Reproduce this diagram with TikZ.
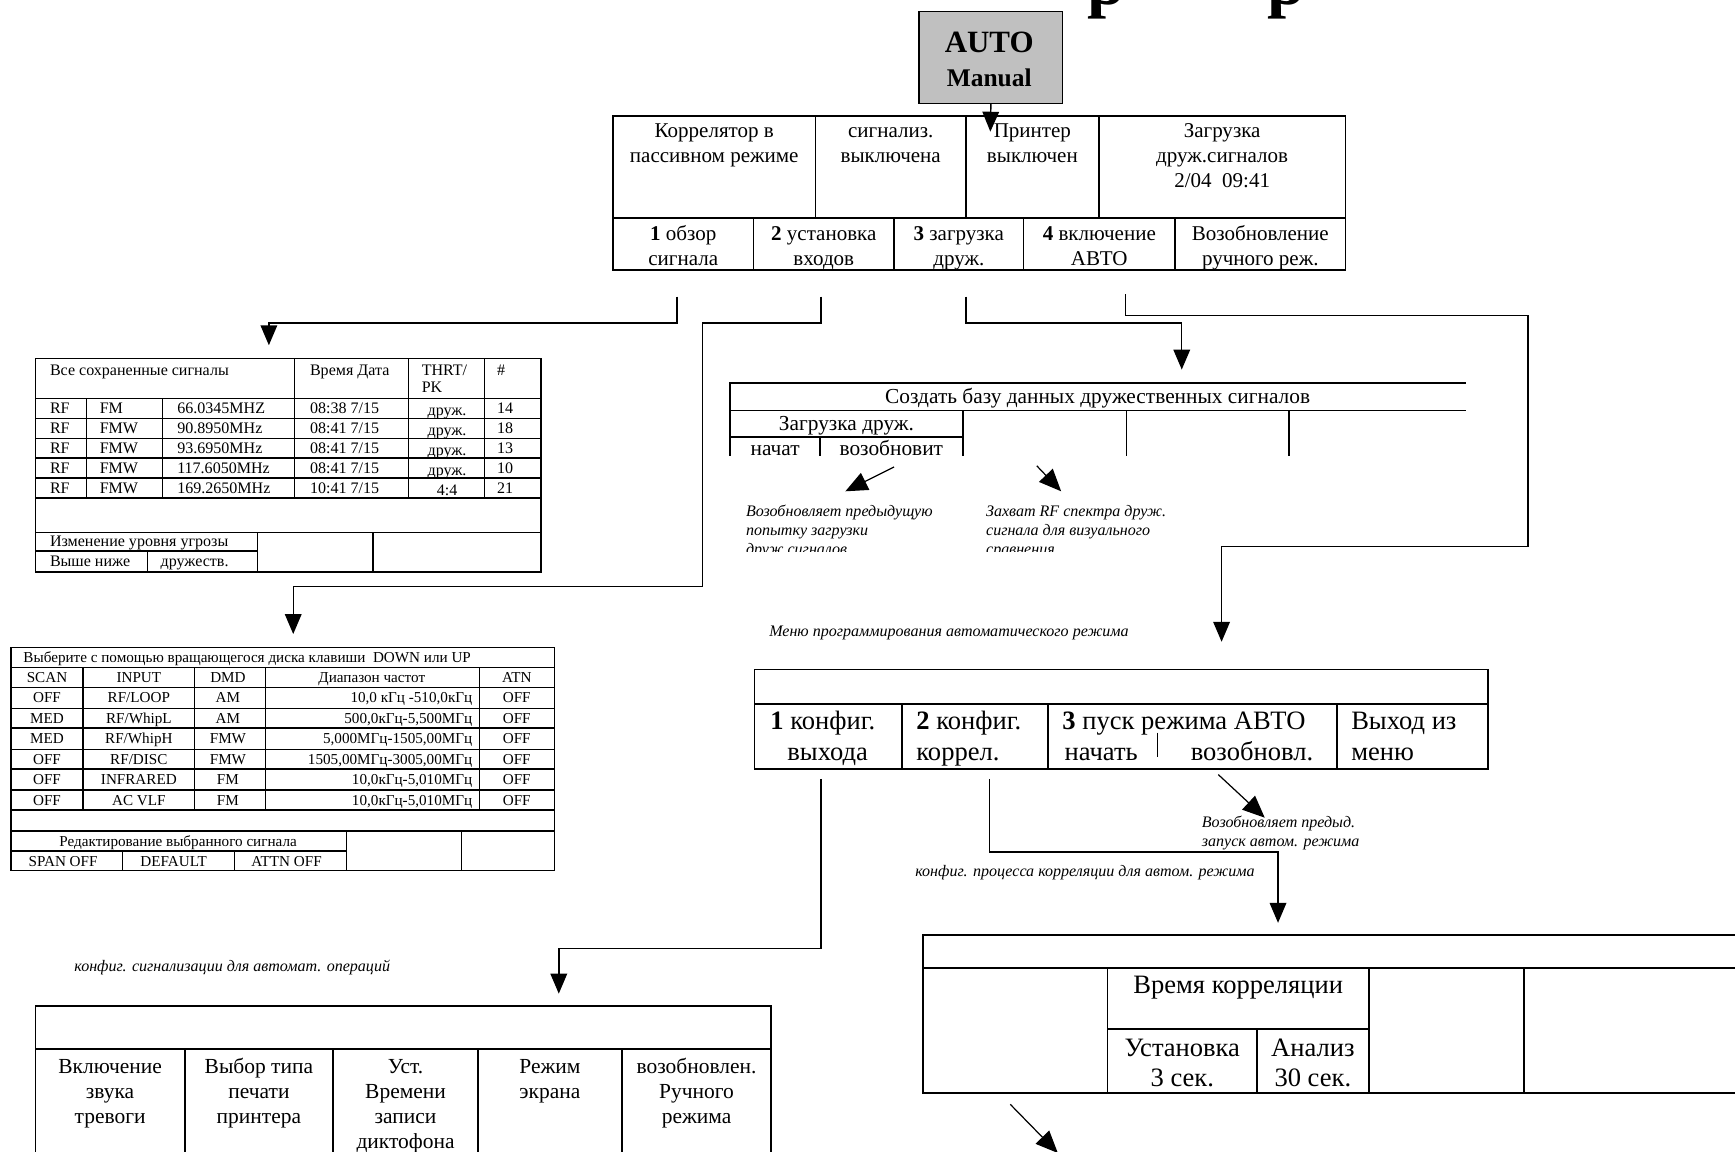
\documentclass[tikz,border=0pt]{standalone}
\usepackage{fontspec}
\setmainfont{Liberation Serif}
\usetikzlibrary{arrows.meta}
\definecolor{autogray}{HTML}{C0C0C0}
\newcommand\mlc[1]{\vtop{\halign{\hfil##\hfil\cr#1\crcr}}}
\newcommand\mll[1]{\vtop{\halign{##\hfil\cr#1\crcr}}}
\newcommand\fsTop{\fontsize{19}{22.5}\selectfont}
\newcommand\fsSav{\fontsize{14.5}{16}\selectfont}
\newcommand\fsInp{\fontsize{13.7}{18}\selectfont}
\newcommand\fsBig{\fontsize{24}{27}\selectfont}
\newcommand\fsCre{\fontsize{19.3}{24}\selectfont}
\newcommand\fsIt{\itshape\fontsize{14.5}{17}\selectfont}
\newcommand\fsBot{\fontsize{19.4}{22.5}\selectfont}
\newcommand\savrow[7]{%
  \node[tw,font=\fsSav] (#1a) at (45,#2) {RF};
  \node[tw,font=\fsSav] (#1b) at (90,#2) {#3};
  \node[tw,font=\fsSav] (#1c) at (160,#2) {#4};
  \node[tw,font=\fsSav] (#1d) at (280,#2) {#5};
  \node[t,font=\fsSav] (#1e) at (404,{#2+1.5}) {#6};
  \node[tw,font=\fsSav] (#1f) at (449,#2) {#7};}
\newcommand\inprow[6]{%
  \node[t,font=\fsInp] (#1a) at (42.5,#2) {#3};
  \node[t,font=\fsInp] (#1b) at (125.5,#2) {#4};
  \node[t,font=\fsInp] (#1c) at (206,#2) {#5};
  \node[te,font=\fsInp] (#1d) at (427,#2) {#6};
  \node[t,font=\fsInp] (#1e) at (467,#2) {OFF};}
\begin{document}
\begin{tikzpicture}[x=1pt,y=-1pt,
  tl/.style={line width=1.5pt},
  ts/.style={line width=1.1pt},
  arr/.style={line width=1.3pt,-{Triangle[length=18pt,width=15pt]}},
  darr/.style={line width=1.1pt,-{Triangle[length=20pt,width=17pt]}},
  t/.style={inner sep=0pt,anchor=base},
  tw/.style={inner sep=0pt,anchor=base west},
  te/.style={inner sep=0pt,anchor=base east}]
\fill[white] (0,0) rectangle (1568,1041);
\useasboundingbox (0,0) rectangle (1568,1041);

% cut-off title fragments (the title lies above the page edge)
\node[tw,font=\bfseries\fontsize{62}{66}\selectfont] (ttl1) at (983,4) {р};
\node[tw,font=\bfseries\fontsize{62}{66}\selectfont] (ttl2) at (1145,4) {р};

% AUTO / Manual
\node[draw,line width=1pt,fill=autogray,minimum width=130pt,minimum height=83pt,inner sep=0pt,anchor=north west] (auto) at (830,10) {};
\node[t,font=\bfseries\fontsize{28}{30}\selectfont] (autoA) at (894,47) {AUTO};
\node[t,font=\bfseries\fontsize{23}{25}\selectfont] (autoM) at (894,78) {Manual};
\coordinate (autoT) at (895,119);

% top table
\draw[tl] (554,105) rectangle (1216,244);
\draw[tl] (554,197) -- (1216,197);
\draw[tl] (737,105) -- (737,197) (873,105) -- (873,197) (993,105) -- (993,197);
\draw[tl] (681,197) -- (681,244) (808,197) -- (808,244) (925,197) -- (925,244) (1062,197) -- (1062,244);
\node[t,font=\fsTop] (m1) at (645.5,124) {\mlc{Коррелятор в\cr пассивном режиме}};
\node[t,font=\fsTop] (m2) at (805,124) {\mlc{сигнализ.\cr выключена}};
\node[t,font=\fsTop] (m3) at (933,124) {\mlc{Принтер\cr выключен}};
\node[t,font=\fsTop] (m4) at (1104.5,124) {\mlc{Загрузка\cr друж.сигналов\cr 2/04\ \ 09:41}};
\node[t,font=\fsTop] (k1) at (617.5,217) {\mlc{\textbf{1} обзор\cr сигнала}};
\node[t,font=\fsTop] (k2) at (744.5,217) {\mlc{\textbf{2} установка\cr входов}};
\node[t,font=\fsTop] (k3) at (866.5,217) {\mlc{\textbf{3} загрузка\cr друж.}};
\node[t,font=\fsTop] (k4) at (993.5,217) {\mlc{\textbf{4} включение\cr АВТО}};
\node[t,font=\fsTop] (k5) at (1139,217) {\mlc{Возобновление\cr ручного реж.}};
\draw[arr] (auto.south) -- (autoT);

% connectors from top table
\coordinate (c1s) at (612,268); \coordinate (c1e) at (243,312);
\draw[arr] (c1s) -- (612,292) -| (c1e);
\coordinate (c2s) at (742,268); \coordinate (c2e) at (265,573);
\draw[arr] (c2s) -- (742,292) -- (635,292) -- (635,530) -| (c2e);
\coordinate (c3s) at (873,268); \coordinate (c3e) at (1068,334);
\draw[arr] (c3s) -- (873,292) -| (c3e);
\coordinate (c4s) at (1017,266); \coordinate (c4e) at (1104,580);
\draw[arr] (c4s) -- (1017,285) -- (1381,285) -- (1381,494) -| (c4e);

% saved signals table
\draw[ts] (32,324) rectangle (489,517);
\foreach \yy in {360,378,396,414,432,450,481} \draw[ts] (32,\yy) -- (489,\yy);
\draw[ts] (32,498) -- (233,498);
\draw[ts] (78,360) -- (78,450) (147,360) -- (147,450);
\draw[ts] (266,324) -- (266,450) (369,324) -- (369,450) (438,324) -- (438,450);
\draw[ts] (233,481) -- (233,517) (337,481) -- (337,517) (133,498) -- (133,517);
\node[tw,font=\fsSav] (sh1) at (45,339) {Все сохраненные сигналы};
\node[tw,font=\fsSav] (sh2) at (280,339) {Время Дата};
\node[tw,font=\fsSav] (sh3) at (381,339) {\mll{THRT/\cr PK}};
\node[tw,font=\fsSav] (sh4) at (449,339) {\#};
\savrow{sa}{374}{FM}{66.0345MHZ}{08:38 7/15}{друж.}{14}
\savrow{sb}{392}{FMW}{90.8950MHz}{08:41 7/15}{друж.}{18}
\savrow{sc}{410}{FMW}{93.6950MHz}{08:41 7/15}{друж.}{13}
\savrow{sd}{428}{FMW}{117.6050MHz}{08:41 7/15}{друж.}{10}
\savrow{se}{446}{FMW}{169.2650MHz}{10:41 7/15}{4:4}{21}
\node[tw,font=\fsSav] (sf1) at (45,494) {Изменение уровня угрозы};
\node[tw,font=\fsSav] (sf2) at (45,512) {Выше ниже};
\node[tw,font=\fsSav] (sf3) at (145,512) {дружеств.};

% input selection table
\draw[ts] (10,585) rectangle (501,787);
\foreach \yy in {603,621,640,658,677,695,714,732,751} \draw[ts] (10,\yy) -- (501,\yy);
\draw[ts] (10,769) -- (313,769);
\draw[ts] (75,603) -- (75,732) (176,603) -- (176,732) (240,603) -- (240,732) (433,603) -- (433,732);
\draw[ts] (313,751) -- (313,787) (417,751) -- (417,787) (111,769) -- (111,787) (212,769) -- (212,787);
\node[tw,font=\fsInp] (it) at (21,599) {Выберите с помощью вращающегося диска клавиши\ \ DOWN или UP};
\node[t,font=\fsInp] (ih1) at (42.5,617) {SCAN};
\node[t,font=\fsInp] (ih2) at (125.5,617) {INPUT};
\node[t,font=\fsInp] (ih3) at (206,617) {DMD};
\node[t,font=\fsInp] (ih4) at (336,617) {Диапазон частот};
\node[t,font=\fsInp] (ih5) at (467,617) {ATN};
\inprow{ia}{635}{OFF}{RF/LOOP}{AM}{10,0 кГц -510,0кГц}
\inprow{ib}{654}{MED}{RF/WhipL}{AM}{500,0кГц-5,500МГц}
\inprow{ic}{672}{MED}{RF/WhipH}{FMW}{5,000МГц-1505,00МГц}
\inprow{id}{691}{OFF}{RF/DISC}{FMW}{1505,00МГц-3005,00МГц}
\inprow{ie}{709}{OFF}{INFRARED}{FM}{10,0кГц-5,010МГц}
\inprow{if}{728}{OFF}{AC VLF}{FM}{10,0кГц-5,010МГц}
\node[t,font=\fsInp] (ib1) at (161,765) {Редактирование выбранного сигнала};
\node[t,font=\fsInp] (ib2) at (57,783) {SPAN OFF};
\node[t,font=\fsInp] (ib3) at (157,783) {DEFAULT};
\node[t,font=\fsInp] (ib4) at (259,783) {ATTN OFF};

% friendly database table
\draw[tl] (660,412) -- (660,346) -- (1325,346);
\draw[tl] (660,371) -- (1325,371);
\draw[tl] (660,395) -- (870,395);
\draw[tl] (870,371) -- (870,412) (1018,371) -- (1018,412) (1165,371) -- (1165,412);
\draw[tl] (741,395) -- (741,412);
\node[t,font=\fsCre] (cr1) at (992,365) {Создать базу данных дружественных сигналов};
\node[t,font=\fsCre] (cr2) at (765,389) {Загрузка друж.};
\begin{scope}
\clip (650,396) rectangle (870,413);
\node[t,font=\fsCre] (cr3) at (700.5,411.5) {начат};
\node[t,font=\fsCre] (cr4) at (805.5,411.5) {возобновит};
\end{scope}
\coordinate (d1s) at (808,422); \coordinate (d1e) at (764,444);
\draw[darr] (d1s) -- (d1e);
\coordinate (d2s) at (937,421); \coordinate (d2e) at (959,444);
\draw[darr] (d2s) -- (d2e);
\begin{scope}
\clip (600,445) rectangle (1100,498);
\node[tw,font=\fsIt] (n1) at (674,467) {\mll{Возобновляет предыдущую\cr попытку загрузки\cr друж.сигналов}};
\node[tw,font=\fsIt] (n2) at (891,467) {\mll{Захват RF спектра друж.\cr сигнала для визуального\cr сравнения}};
\end{scope}

% auto programming menu
\node[tw,font=\fsIt] (n3) at (695,575) {Меню программирования автоматического режима};
\draw[tl] (682,605) rectangle (1345,695);
\draw[tl] (682,636) -- (1345,636);
\draw[tl] (815,636) -- (815,695) (947,636) -- (947,695) (1208,636) -- (1208,695);
\draw[line width=0.8pt] (1046,662) -- (1046,684);
\node[tw,font=\fsBig] (a1) at (696,659) {\textbf{1} конфиг.};
\node[t,font=\fsBig] (a2) at (748,687) {выхода};
\node[tw,font=\fsBig] (a3) at (828,659) {\textbf{2} конфиг.};
\node[tw,font=\fsBig] (a4) at (828,687) {коррел.};
\node[tw,font=\fsBig] (a5) at (960,659) {\textbf{3} пуск режима АВТО};
\node[tw,font=\fsBig] (a6) at (962,687) {начать};
\node[tw,font=\fsBig] (a7) at (1076,687) {возобновл.};
\node[tw,font=\fsBig] (a8) at (1221,659) {Выход из};
\node[tw,font=\fsBig] (a9) at (1221,687) {меню};
\coordinate (d3s) at (1101,700); \coordinate (d3e) at (1143,739);
\draw[darr] (d3s) -- (d3e);
\node[tw,font=\fsIt] (n4) at (1086,748) {\mll{Возобновляет предыд.\cr запуск автом. режима}};

\coordinate (c5s) at (894,704); \coordinate (c5e) at (1155,834);
\draw[arr] (c5s) -- (894,770) -| (c5e);
\node[tw,font=\fsIt] (n5) at (827,792) {конфиг. процесса корреляции для автом. режима};
\coordinate (c6s) at (742,704); \coordinate (c6e) at (505,898);
\draw[arr] (c6s) -- (742,857) -| (c6e);
\node[tw,font=\fsIt] (n6) at (67,878) {конфиг. сигнализации для автомат. операций};

% correlation table
\draw[tl] (1580,845) -- (834,845) -- (834,988) -- (1580,988);
\draw[tl] (834,875) -- (1580,875);
\draw[tl] (1001,875) -- (1001,988) (1237,875) -- (1237,988) (1377,875) -- (1377,988);
\draw[tl] (1001,930) -- (1237,930) (1136,930) -- (1136,988);
\node[t,font=\fsBig] (r1) at (1119,898) {Время корреляции};
\node[t,font=\fsBig] (r2) at (1068.5,955) {\mlc{Установка\cr 3 сек.}};
\node[t,font=\fsBig] (r3) at (1186.5,955) {\mlc{Анализ\cr 30 сек.}};
\coordinate (d4s) at (913,998); \coordinate (d4e) at (956,1042);
\draw[darr] (d4s) -- (d4e);

% alarm config table
\draw[tl] (32,1060) -- (32,909) -- (697,909) -- (697,1060);
\draw[tl] (32,948) -- (697,948);
\draw[tl] (167,948) -- (167,1060) (301,948) -- (301,1060) (432,948) -- (432,1060) (562,948) -- (562,1060);
\node[t,font=\fsBot] (b1) at (99.5,970) {\mlc{Включение\cr звука\cr тревоги}};
\node[t,font=\fsBot] (b2) at (234,970) {\mlc{Выбор типа\cr печати\cr принтера}};
\node[t,font=\fsBot] (b3) at (366.5,970) {\mlc{Уст.\cr Времени\cr записи\cr диктофона}};
\node[t,font=\fsBot] (b4) at (497,970) {\mlc{Режим\cr экрана}};
\node[t,font=\fsBot] (b5) at (629.5,970) {\mlc{возобновлен.\cr Ручного\cr режима}};
\end{tikzpicture}
\end{document}
